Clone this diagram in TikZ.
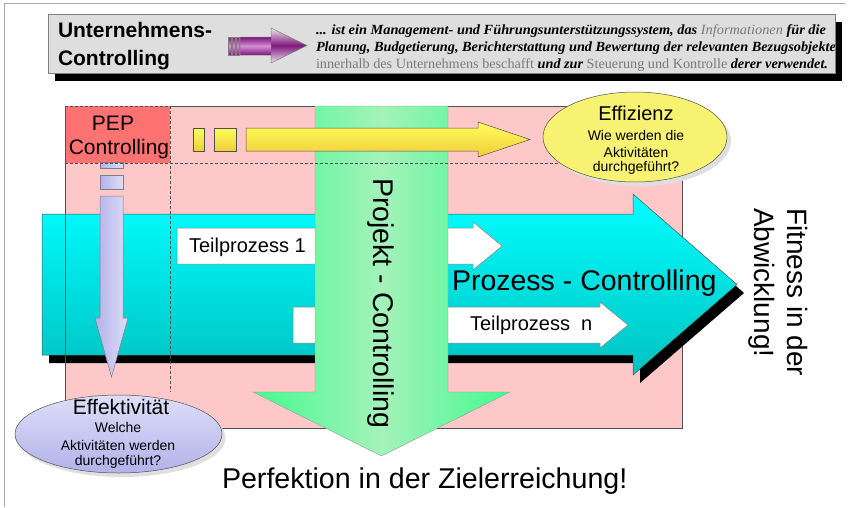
\documentclass[tikz,border=0pt]{standalone}
\usepackage{fontspec}
\usepackage{graphicx}
\setmainfont{Liberation Sans}
\newfontfamily\timesf{Liberation Serif}
\usetikzlibrary{shapes.geometric}

\definecolor{framegray}{HTML}{A8A8A8}
\definecolor{hdrgray}{HTML}{DEDEDE}
\definecolor{pinkbg}{HTML}{FFC8C8}
\definecolor{pepred}{HTML}{FF7272}
\definecolor{cyantop}{HTML}{00FFFF}
\definecolor{cyanbot}{HTML}{00C2C2}
\definecolor{greenedge}{HTML}{44FA8E}
\definecolor{greenmid}{HTML}{A4F2BA}
\definecolor{yelltop}{HTML}{FFFF58}
\definecolor{yellbot}{HTML}{F0CC3C}
\definecolor{lavlight}{HTML}{DEDEF8}
\definecolor{lavdark}{HTML}{B2B2EA}
\definecolor{ellyellow}{HTML}{F8F272}
\definecolor{purpdark}{HTML}{7E1A7C}
\definecolor{purplight}{HTML}{D690D4}
\definecolor{purppale}{HTML}{F0E2F0}
\definecolor{outline}{HTML}{505050}
\definecolor{softgray}{HTML}{7A7A7A}

\newcommand\pxfont[1]{\fontsize{#1}{#1}\selectfont}
\newcommand\lighttext[1]{{\mdseries\color{softgray}#1}}

\tikzset{
  frameline/.style={draw=framegray, line width=0.8pt},
  hdrbox/.style={draw=gray, fill=hdrgray, line width=0.8pt},
  hardshadow/.style={fill=black},
  pinkarea/.style={fill=pinkbg, draw=outline, line width=0.6pt},
  borderline/.style={draw=outline, line width=0.6pt},
  guide/.style={draw=outline, line width=0.7pt, dash pattern=on 3pt off 2pt},
  cyanarrow/.style={top color=cyantop, bottom color=cyanbot, draw=outline, line width=0.5pt},
  whitearrow/.style={fill=white, draw=gray, line width=0.5pt},
  greenarrow/.style={left color=greenedge, right color=greenedge, middle color=greenmid, draw=gray!80, line width=0.4pt},
  yellowpart/.style={top color=yelltop, bottom color=yellbot, draw=outline, line width=0.5pt},
  lavpart/.style={left color=lavdark, right color=lavlight, draw=gray, line width=0.5pt},
  ellshadow/.style={ellipse, fill=gray!25, draw=none},
  plain/.style={inner sep=0pt, outer sep=0pt},
}

\begin{document}
\begin{tikzpicture}[x=1pt, y=-1pt]
\useasboundingbox (0,0) rectangle (854,507);
\fill[white] (0,0) rectangle (854,507);

% outer frame (top and left edge)
\draw[frameline] (4,507) -- (4,3) -- (845,3);

% ---------- header ----------
\fill[hardshadow] (55,22) rectangle (842,81);
\draw[hdrbox] (48,14) rectangle (835,73);
\node[plain, anchor=base west, font=\bfseries\pxfont{21}] (hdr1) at (58,37) {Unternehmens-};
\node[plain, anchor=base west, font=\bfseries\pxfont{21}] (hdr2) at (58,65) {Controlling};

% purple arrow in the header
\foreach \sx in {228,232,236}
  \draw[top color=purpdark, bottom color=purpdark, middle color=purplight, draw=gray, line width=0.4pt]
    (\sx,37) rectangle ++(3,18);
\path[top color=purppale, bottom color=purppale, middle color=purpdark]
  (240,37) -- (271,37) -- (271,28) -- (307,45.5) -- (271,63) -- (271,55) -- (240,55) -- cycle;
\path[top color=purpdark, bottom color=purpdark, middle color=purplight]
  (240,37.5) rectangle (271,54.5);
\draw[gray, line width=0.5pt]
  (240,37) -- (271,37) -- (271,28) -- (307,45.5) -- (271,63) -- (271,55) -- (240,55) -- cycle;

% definition text
\begin{scope}[every node/.style={plain, anchor=base west, font=\timesf\bfseries\itshape\pxfont{14}}]
\node (def1) at (316,34) {\resizebox{510pt}{\height}{... ist ein Management- und Führungsunterstützungssystem, das \lighttext{Informationen} für die}};
\node (def2) at (316,51) {\resizebox{520pt}{\height}{Planung, Budgetierung, Berichterstattung und Bewertung der relevanten Bezugsobjekte}};
\node (def3) at (316,68) {\resizebox{512pt}{\height}{\lighttext{\upshape innerhalb des Unternehmens beschafft} und zur \lighttext{\upshape Steuerung und Kontrolle} derer verwendet.}};
\end{scope}
\draw[draw=gray, line width=0.8pt] (835,14) -- (835,73);

% ---------- main field ----------
\draw[pinkarea] (65,106) rectangle (682,428);
\fill[pepred] (65,106) rectangle (170,163);

% process arrow with hard shadow
\fill[hardshadow] (49,222) -- (640,222) -- (640,202) -- (744,293) -- (640,383) -- (640,363) -- (49,363) -- cycle;
\draw[cyanarrow] (42,214) -- (633,214) -- (633,194) -- (737,284.5) -- (633,375) -- (633,355) -- (42,355) -- cycle;
\draw[borderline] (65,214) -- (65,355);

% sub-process arrows
\draw[whitearrow] (177,228) -- (473,228) -- (473,222) -- (502,246) -- (473,270) -- (473,264) -- (177,264) -- cycle;
\draw[whitearrow] (293,307) -- (600,307) -- (600,302) -- (628,325) -- (600,348) -- (600,343) -- (293,343) -- cycle;
\node[plain, anchor=west, font=\pxfont{20}] (tp1) at (189,247) {Teilprozess 1};
\node[plain, anchor=west, font=\pxfont{20}] (tpn) at (470,325) {Teilprozess\ \ n};
\node[plain, anchor=base west, font=\pxfont{28.5}] (proz) at (452,290) {Prozess - Controlling};

% project arrow
\draw[greenarrow] (315,106) -- (448,106) -- (448,392) -- (510,392) -- (381.5,456) -- (253,392) -- (315,392) -- cycle;
\node[plain, rotate=-90, anchor=base west, font=\pxfont{28.5}] (proj) at (373,178) {Projekt - Controlling};

% efficiency arrow
\draw[yellowpart] (193,128) rectangle (204,151);
\draw[yellowpart] (214,128) rectangle (236,151);
\draw[yellowpart] (246,128) -- (478,128) -- (478,122) -- (530,139.5) -- (478,157) -- (478,151) -- (246,151) -- cycle;

% effectiveness arrow
\draw[lavpart] (100,162) rectangle (123,168);
\draw[lavpart] (100,175) rectangle (123,189);
\draw[lavpart] (100,196) -- (100,318) -- (95,318) -- (111.5,377) -- (128,318) -- (123,318) -- (123,196) -- cycle;

% dashed guides
\draw[guide] (65,163) -- (600,163);
\draw[guide] (170,106) -- (170,392);
\draw[guide] (65,106) -- (170,106);
\draw[borderline] (65,106) -- (65,428);

\node[plain, font=\pxfont{21}] (pep1) at (113,123) {PEP};
\node[plain, font=\pxfont{21}] (pep2) at (119,149) {Controlling};

% efficiency ellipse
\node[ellshadow, minimum width=184pt, minimum height=90pt] (effzsh) at (639,141) {};
\node[ellipse, fill=ellyellow, draw=outline, line width=0.5pt, minimum width=184pt, minimum height=90pt] (effz) at (635,137) {};
\node[plain, font=\pxfont{20}] (effz0) at (636,113) {Effizienz};
\node[plain, font=\pxfont{14}] (effz1) at (636,135) {Wie werden die};
\node[plain, font=\pxfont{14}] (effz2) at (636,152) {Aktivitäten};
\node[plain, font=\pxfont{14}] (effz3) at (636,168) {durchgeführt?};

% effectiveness ellipse
\node[ellshadow, minimum width=207pt, minimum height=78pt] (effksh) at (122,438) {};
\node[ellipse, top color=lavlight, bottom color=lavdark, draw=outline, line width=0.5pt, minimum width=207pt, minimum height=78pt] (effk) at (118.5,434) {};
\node[plain, font=\pxfont{21}] (effk0) at (121,407) {Effektivität};
\node[plain, font=\pxfont{14}] (effk1) at (118,427) {Welche};
\node[plain, font=\pxfont{14}] (effk2) at (118,445) {Aktivitäten werden};
\node[plain, font=\pxfont{14}] (effk3) at (118,462) {durchgeführt?};

% closing statements
\node[plain, anchor=base west, font=\pxfont{28.6}] (perf) at (222,488) {Perfektion in der Zielerreichung!};
\node[plain, rotate=-90, anchor=base west, font=\pxfont{28}] (fit1) at (787,208) {Fitness in der};
\node[plain, rotate=-90, anchor=base west, font=\pxfont{28}] (fit2) at (754,208) {Abwicklung!};
\end{tikzpicture}
\end{document}
